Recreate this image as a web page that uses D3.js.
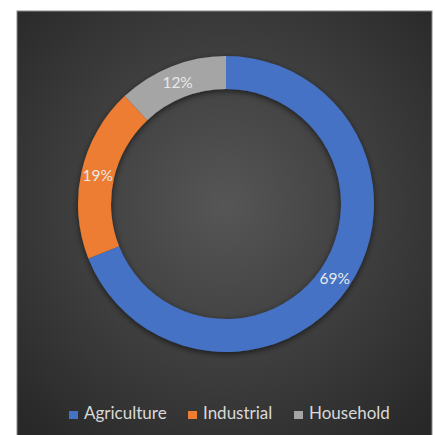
<!DOCTYPE html>
<html>
<head>
<meta charset="utf-8">
<script src="https://cdn.jsdelivr.net/npm/d3@7"></script>
<style>
  html, body { margin: 0; padding: 0; background: #fff; }
  svg { display: block; }
</style>
</head>
<body>
<svg id="chart" width="435" height="435"></svg>
<script>
// Water use by sector
const categories = ["Agriculture", "Industrial", "Household"];
const shares = [69, 19, 12];
const colors = ["#4472C4", "#ED7D31", "#A5A5A5"];

const svg = d3.select("#chart");

// Panel with dark radial background
const defs = svg.append("defs");
const grad = defs.append("radialGradient").attr("id", "bg")
  .attr("cx", "50%").attr("cy", "45%").attr("r", "70%");
grad.append("stop").attr("offset", "0%").attr("stop-color", "#565656");
grad.append("stop").attr("offset", "100%").attr("stop-color", "#282828");

const shadow = defs.append("filter").attr("id", "shadow")
  .attr("x", "-20%").attr("y", "-20%").attr("width", "140%").attr("height", "140%");
shadow.append("feGaussianBlur").attr("in", "SourceAlpha").attr("stdDeviation", 3);
shadow.append("feOffset").attr("dx", 0).attr("dy", 2).attr("result", "b");
shadow.append("feComponentTransfer").append("feFuncA").attr("type", "linear").attr("slope", 0.6);
const merge = shadow.append("feMerge");
merge.append("feMergeNode");
merge.append("feMergeNode").attr("in", "SourceGraphic");

svg.append("rect")
  .attr("x", 17).attr("y", 11).attr("width", 415).attr("height", 430)
  .attr("fill", "url(#bg)")
  .attr("stroke", "#8a8a8a").attr("stroke-width", 1);

// Doughnut
const cx = 226, cy = 204;
const outerR = 148, innerR = 115;

const pie = d3.pie().sort(null).value(d => d.v);
const arcs = pie(categories.map((c, i) => ({ c, v: shares[i], col: colors[i] })));
const arc = d3.arc().innerRadius(innerR).outerRadius(outerR);
const labelArc = d3.arc().innerRadius((innerR + outerR) / 2).outerRadius((innerR + outerR) / 2);

const g = svg.append("g").attr("transform", `translate(${cx},${cy})`);
g.append("g").attr("filter", "url(#shadow)")
  .selectAll("path").data(arcs).join("path")
  .attr("d", arc)
  .attr("fill", d => d.data.col);

g.selectAll("text").data(arcs).join("text")
  .attr("transform", d => `translate(${labelArc.centroid(d)})`)
  .attr("text-anchor", "middle")
  .attr("dominant-baseline", "central")
  .attr("font-family", "Lato, 'Open Sans', sans-serif")
  .attr("font-size", 15.5)
  .attr("fill", "#e8e8e8")
  .text(d => d.data.v + "%");

// Legend
const swatchX = [69, 188, 294];
const lg = svg.append("g");
categories.forEach((c, i) => {
  lg.append("rect").attr("x", swatchX[i]).attr("y", 411).attr("width", 9).attr("height", 8)
    .attr("fill", colors[i]);
  lg.append("text").attr("x", swatchX[i] + 15).attr("y", 419)
    .attr("font-family", "Lato, 'Open Sans', sans-serif")
    .attr("font-size", 17)
    .attr("fill", "#d9d9d9")
    .text(c);
});
</script>
</body>
</html>
